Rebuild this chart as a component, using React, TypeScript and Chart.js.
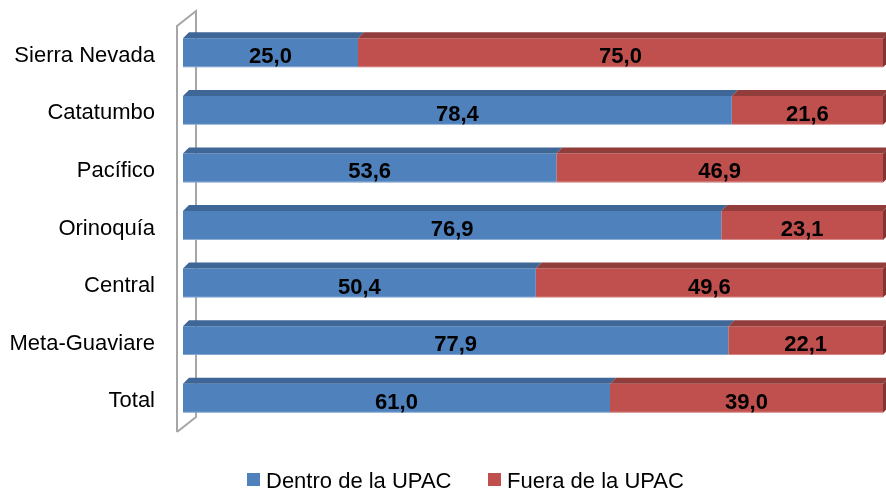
import React, { useEffect, useRef } from "react";
import { Chart, registerables } from "chart.js";

Chart.register(...registerables);

const categories = ["Sierra Nevada", "Catatumbo", "Pacífico", "Orinoquía", "Central", "Meta-Guaviare", "Total"];
const dentro = [25.0, 78.4, 53.6, 76.9, 50.4, 77.9, 61.0];
const fuera = [75.0, 21.6, 46.9, 23.1, 49.6, 22.1, 39.0];
const seriesNames = ["Dentro de la UPAC", "Fuera de la UPAC"];
const seriesRaw = [dentro, fuera];

const FRONT = ["#4F81BD", "#C0504D"];
const TOP = ["#3E6696", "#913D3B"];
const SIDE = ["#37598A", "#833533"];
const FONT = "'Liberation Sans', Arial, sans-serif";
const DEPTH = 6;

const fmt = (v: number) => v.toFixed(1).replace(".", ",");

const wallPlugin = {
  id: "wall",
  beforeDatasetsDraw(chart: any) {
    const ctx = chart.ctx;
    const area = chart.chartArea;
    const fx = area.left - 6;
    const bx = fx + 19;
    const topF = area.top + 2;
    const botF = area.bottom + 5;
    const dy = 15;
    ctx.save();
    ctx.strokeStyle = "#A6A6A6";
    ctx.lineWidth = 2;
    ctx.beginPath();
    ctx.moveTo(fx, botF);
    ctx.lineTo(fx, topF);
    ctx.lineTo(bx, topF - dy);
    ctx.lineTo(bx, botF - dy);
    ctx.lineTo(fx, botF);
    ctx.stroke();
    ctx.restore();
  },
};

const bar3dPlugin = {
  id: "bar3d",
  afterDatasetsDraw(chart: any) {
    const ctx = chart.ctx;
    ctx.save();
    chart.data.datasets.forEach((ds: any, di: number) => {
      const meta = chart.getDatasetMeta(di);
      meta.data.forEach((el: any, i: number) => {
        const p = el.getProps(["x", "base", "y", "height"], true);
        const x0 = Math.min(p.x, p.base);
        const x1 = Math.max(p.x, p.base);
        const yT = p.y - p.height / 2;
        const yB = p.y + p.height / 2;
        ctx.fillStyle = TOP[di];
        ctx.beginPath();
        ctx.moveTo(x0, yT);
        ctx.lineTo(x1, yT);
        ctx.lineTo(x1 + DEPTH, yT - DEPTH);
        ctx.lineTo(x0 + DEPTH, yT - DEPTH);
        ctx.closePath();
        ctx.fill();
        if (di === chart.data.datasets.length - 1) {
          ctx.fillStyle = SIDE[di];
          ctx.beginPath();
          ctx.moveTo(x1, yT);
          ctx.lineTo(x1 + DEPTH, yT - DEPTH);
          ctx.lineTo(x1 + DEPTH, yB - DEPTH);
          ctx.lineTo(x1, yB);
          ctx.closePath();
          ctx.fill();
        }
        ctx.fillStyle = "rgba(255,255,255,0.35)";
        ctx.fillRect(x0, yB - 1, x1 - x0, 1);
        const raw = seriesRaw[di][i];
        ctx.fillStyle = "#000";
        ctx.font = `bold 22px ${FONT}`;
        ctx.textAlign = "center";
        ctx.textBaseline = "alphabetic";
        ctx.fillText(fmt(raw), (x0 + x1) / 2, p.y + 10.5);
      });
    });
    ctx.restore();
  },
};

const legendPlugin = {
  id: "customLegend",
  afterDraw(chart: any) {
    const ctx = chart.ctx;
    ctx.save();
    ctx.font = `22px ${FONT}`;
    ctx.textBaseline = "alphabetic";
    ctx.textAlign = "left";
    const xs = [247, 488];
    seriesNames.forEach((name, i) => {
      ctx.fillStyle = FRONT[i];
      ctx.fillRect(xs[i], 473, 13, 13);
      ctx.fillStyle = "#000";
      ctx.fillText(name, xs[i] + 19, 488);
    });
    ctx.restore();
  },
};

export default function App() {
  const ref = useRef<HTMLCanvasElement | null>(null);
  useEffect(() => {
    if (!ref.current) return;
    const datasets = seriesRaw.map((arr, di) => ({
      label: seriesNames[di],
      data: arr.map((v, i) => (v / (dentro[i] + fuera[i])) * 100),
      backgroundColor: FRONT[di],
      borderWidth: 0,
      barPercentage: 1,
      categoryPercentage: 0.503,
    }));
    const chart = new Chart(ref.current, {
      type: "bar",
      data: { labels: categories, datasets },
      options: {
        indexAxis: "y",
        animation: false,
        responsive: false,
        layout: { padding: { top: 24, bottom: 71, right: 3, left: 0 } },
        plugins: { legend: { display: false }, tooltip: { enabled: false } },
        scales: {
          x: { stacked: true, min: 0, max: 100, display: false },
          y: {
            stacked: true,
            border: { display: false },
            grid: { display: false, drawTicks: false },
            ticks: {
              padding: 28,
              labelOffset: 3,
              color: "#000",
              font: { family: FONT, size: 22 },
            },
            afterFit: (scale: any) => {
              scale.width = 183;
              scale.paddingTop = 0;
              scale.paddingBottom = 0;
            },
          },
        },
      } as any,
      plugins: [wallPlugin, bar3dPlugin, legendPlugin],
    });
    return () => chart.destroy();
  }, []);
  return (
    <div style={{ position: "absolute", left: 0, top: 0, width: 886, height: 498, background: "#fff" }}>
      <canvas ref={ref} width={886} height={498} style={{ display: "block" }} />
    </div>
  );
}
